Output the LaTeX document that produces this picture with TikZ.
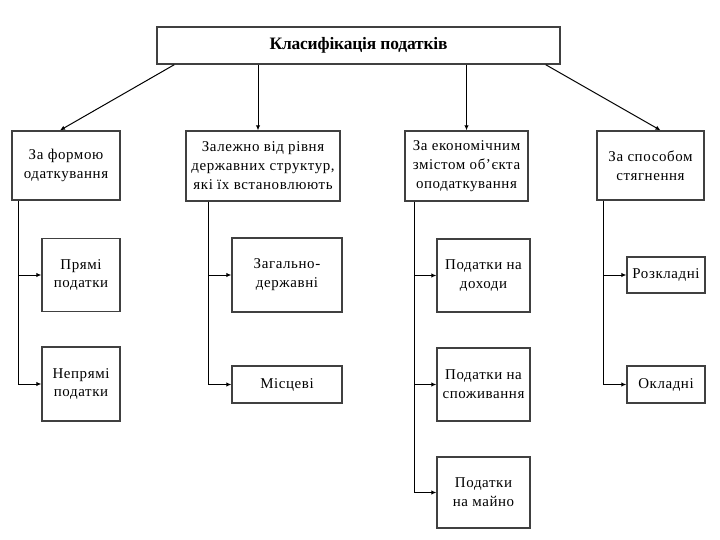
\documentclass[tikz,border=0pt]{standalone}
\usepackage{fontspec}
\setmainfont{Liberation Serif}[LetterSpace=4]
\newfontfamily\titlefont{Liberation Serif}[LetterSpace=-1]
\usetikzlibrary{arrows.meta}
\tikzset{
    box/.style={draw=black!75, line width=1.4pt, fill=white, align=center,
        inner sep=1pt, font=\fontsize{15}{19}\selectfont},
    arr/.style={line width=1pt, -{Latex[length=5pt,width=4.5pt]}},
}
\begin{document}
\begin{tikzpicture}[x=1bp,y=-1bp]
    \useasboundingbox[fill=white] (0,0) rectangle (720,540);
    %% Top
    \node[box, minimum width=403bp, minimum height=37bp,
        font=\titlefont\fontsize{17.5}{20}\selectfont\bfseries] (title) at (358.5,45.5)
        {Класифікація податків};
    %% Groups
    \node[box, minimum width=108bp, minimum height=69bp] (forma) at (66,165.5)
        {За формою\\одаткування};
    \node[box, minimum width=154bp, minimum height=70bp] (rivni) at (263,166)
        {Залежно від рівня\\державних структур,\\які їх встановлюють};
    \node[box, minimum width=123bp, minimum height=70bp] (zmist) at (466.5,166)
        {За економічним\\змістом об'єкта\\оподаткування};
    \node[box, minimum width=107bp, minimum height=69bp] (sposib) at (650.5,165.5)
        {За способом\\стягнення};
    %% Kinds
    \node[box, minimum width=78bp, minimum height=73bp] (pryami) at (81,275)
        {Прямі\\податки};
    \node[box, minimum width=78bp, minimum height=74bp] (nepryami) at (81,384)
        {Непрямі\\податки};
    \node[box, minimum width=110bp, minimum height=74bp] (zahalni) at (287,275)
        {Загально-\\державні};
    \node[box, minimum width=110bp, minimum height=37bp] (mistsevi) at (287,384.5)
        {Місцеві};
    \node[box, minimum width=93bp, minimum height=73bp] (dokhody) at (483.5,275.5)
        {Податки на\\доходи};
    \node[box, minimum width=93bp, minimum height=73bp] (spozhyv) at (483.5,384.5)
        {Податки на\\споживання};
    \node[box, minimum width=93bp, minimum height=71bp] (maino) at (483.5,492.5)
        {Податки\\на майно};
    \node[box, minimum width=78bp, minimum height=36bp] (rozkl) at (666,275)
        {Розкладні};
    \node[box, minimum width=78bp, minimum height=37bp] (okl) at (666,384.5)
        {Окладні};
    %% From the top
    \draw[arr] ([xshift=18bp]title.south west) -- ([xshift=-6bp]forma.north);
    \draw[arr] (title.south -| {258,0}) -- (rivni.north -| {258,0});
    \draw[arr] (title.south -| zmist.north) -- (zmist.north);
    \draw[arr] ([xshift=-15bp]title.south east) -- ([xshift=10bp]sposib.north);
    %% Trunks
    \draw[arr] ([xshift=7bp]forma.south west) |- (pryami.west);
    \draw[arr] ([xshift=7bp]forma.south west) |- (nepryami.west);
    \draw[arr] ([xshift=23bp]rivni.south west) |- (zahalni.west);
    \draw[arr] ([xshift=23bp]rivni.south west) |- (mistsevi.west);
    \draw[arr] ([xshift=10bp]zmist.south west) |- (dokhody.west);
    \draw[arr] ([xshift=10bp]zmist.south west) |- (spozhyv.west);
    \draw[arr] ([xshift=10bp]zmist.south west) |- (maino.west);
    \draw[arr] ([xshift=7bp]sposib.south west) |- (rozkl.west);
    \draw[arr] ([xshift=7bp]sposib.south west) |- (okl.west);
\end{tikzpicture}
\end{document}
